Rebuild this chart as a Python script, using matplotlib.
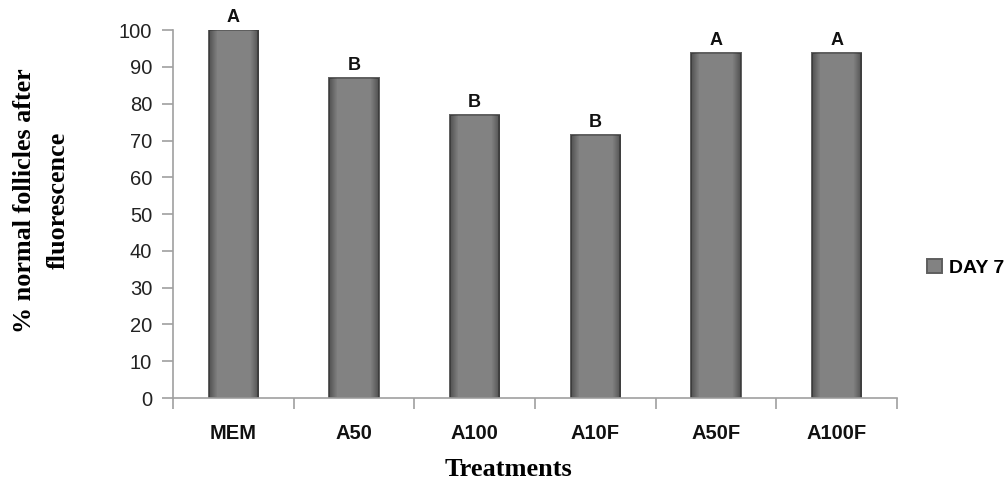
import numpy as np
import matplotlib.pyplot as plt

# data
treatments = ['MEM', 'A50', 'A100', 'A10F', 'A50F', 'A100F']
day7 = [100, 87, 77, 71.5, 93.8, 93.8]
letters = ['A', 'B', 'B', 'B', 'A', 'A']

fig = plt.figure(figsize=(10.07, 4.86), dpi=100)
ax = fig.add_axes([0.1718, 0.181, 0.719, 0.757])

x = np.arange(len(treatments))
bars = ax.bar(x, day7, width=0.41, color='#828282', edgecolor='#5e5e5e',
              linewidth=1.4, label='DAY 7', zorder=2)

# soft shading inside each bar (darker at the sides, like the original)
alpha = np.concatenate([np.linspace(0.35, 0.0, 6), np.zeros(20), np.linspace(0.0, 0.35, 6)])
shade = np.zeros((1, alpha.size, 4))
shade[0, :, 3] = alpha
for b in bars:
    im = ax.imshow(shade, aspect='auto', interpolation='bilinear',
                   extent=(b.get_x(), b.get_x() + b.get_width(), 0, b.get_height()),
                   zorder=2.5)
    im.set_clip_path(b)

# letters above bars
for xi, v, lt in zip(x, day7, letters):
    ax.text(xi, v + 1.0, lt, ha='center', va='bottom', fontsize=13,
            fontweight='bold', family='Liberation Sans', color='#111111')

ax.set_xlim(-0.5, len(treatments) - 0.5)
ax.set_ylim(0, 100)
ax.set_yticks(range(0, 101, 10))
ax.set_xticks(np.arange(-0.5, len(treatments), 1.0))
ax.set_xticklabels([])
for xi, name in zip(x, treatments):
    ax.text(xi, -7.0, name, ha='center', va='top', fontsize=14.5, fontweight='bold',
            family='Liberation Sans', color='#111111')

for lab in ax.get_yticklabels():
    lab.set_family('Liberation Sans')
    lab.set_fontsize(14.5)
    lab.set_color('#222222')

ax.tick_params(axis='both', direction='out', length=8, color='#a0a0a0', width=1.2)
ax.tick_params(axis='y', pad=7)
for s in ['top', 'right']:
    ax.spines[s].set_visible(False)
for s in ['left', 'bottom']:
    ax.spines[s].set_color('#a0a0a0')
    ax.spines[s].set_linewidth(1.2)

fig.text(0.041, 0.588, '% normal follicles after\nfluorescence', rotation=90,
         ha='center', va='center', fontsize=18.8, fontweight='bold',
         family='Liberation Serif', linespacing=1.6)
fig.text(0.505, 0.033, 'Treatments', ha='center', va='center', fontsize=19,
         fontweight='bold', family='Liberation Serif')

leg = fig.legend(handles=[bars], labels=['DAY 7'], loc='center left',
                 bbox_to_anchor=(0.921, 0.449), frameon=False, handlelength=0.75,
                 handleheight=0.75, handletextpad=0.35, borderaxespad=0, borderpad=0,
                 prop={'family': 'Liberation Sans', 'weight': 'bold', 'size': 14})

plt.savefig('out.png', dpi=100)
